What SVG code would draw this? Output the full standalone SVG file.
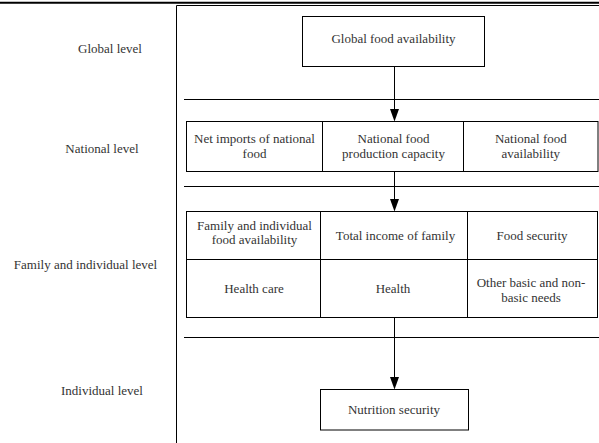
<svg xmlns="http://www.w3.org/2000/svg" width="599" height="443" viewBox="0 0 599 443">
  <style>
    .box { fill: #fff; stroke: #000; stroke-width: 1; }
    .ln { stroke: #000; stroke-width: 1; fill: none; }
    .ah { fill: #000; stroke: none; }
    text { font-family: Liberation Serif, serif; font-size: 13px; fill: #333; text-anchor: middle; }
  </style>
  <rect x="0" y="0" width="599" height="443" fill="#fff"/>

  <g id="frame">
    <line class="ln" x1="0" y1="2.7" x2="599" y2="2.7" style="stroke-width:2"/>
    <line class="ln" x1="176.5" y1="5.5" x2="599" y2="5.5"/>
    <line class="ln" x1="176.5" y1="5.5" x2="176.5" y2="443"/>
    <line class="ln" x1="184" y1="99.5" x2="599" y2="99.5"/>
    <line class="ln" x1="184" y1="186.5" x2="599" y2="186.5"/>
    <line class="ln" x1="184" y1="337.5" x2="599" y2="337.5"/>
  </g>

  <g id="level-labels">
    <text x="110" y="52.5">Global level</text>
    <text x="102" y="152.5">National level</text>
    <text x="85.5" y="269">Family and individual level</text>
    <text x="102" y="394.5">Individual level</text>
  </g>

  <g id="connectors">
    <line class="ln" x1="394.5" y1="66.5" x2="394.5" y2="110"/>
    <polygon class="ah" points="394.5,121.5 390,109 399,109"/>
    <line class="ln" x1="394.5" y1="171.5" x2="394.5" y2="200"/>
    <polygon class="ah" points="394.5,211.5 390,199 399,199"/>
    <line class="ln" x1="394.5" y1="317.5" x2="394.5" y2="378"/>
    <polygon class="ah" points="394.5,389.5 390,377 399,377"/>
  </g>

  <g id="global-food-availability">
    <rect class="box" x="302.5" y="16.5" width="182" height="50"/>
    <text x="393.5" y="43">Global food availability</text>
  </g>

  <g id="net-imports">
    <rect class="box" x="186.5" y="121.5" width="136" height="50"/>
    <text x="254.5" y="143">Net imports of national</text>
    <text x="254.5" y="157.5">food</text>
  </g>
  <g id="national-production">
    <rect class="box" x="322.5" y="121.5" width="141" height="50"/>
    <text x="393.5" y="143">National food</text>
    <text x="393.5" y="157.5">production capacity</text>
  </g>
  <g id="national-availability">
    <rect class="box" x="463.5" y="121.5" width="134.5" height="50"/>
    <text x="530.8" y="143">National food</text>
    <text x="530.8" y="157.5">availability</text>
  </g>

  <g id="family-availability">
    <rect class="box" x="186.5" y="211.5" width="134" height="48"/>
    <text x="254.5" y="229.5">Family and individual</text>
    <text x="254.5" y="243.5">food availability</text>
  </g>
  <g id="total-income">
    <rect class="box" x="320.5" y="211.5" width="147" height="48"/>
    <text x="395.5" y="240">Total income of family</text>
  </g>
  <g id="food-security">
    <rect class="box" x="467.5" y="211.5" width="130" height="48"/>
    <text x="532" y="240">Food security</text>
  </g>
  <g id="health-care">
    <rect class="box" x="186.5" y="259.5" width="134" height="58"/>
    <text x="254" y="293">Health care</text>
  </g>
  <g id="health">
    <rect class="box" x="320.5" y="259.5" width="147" height="58"/>
    <text x="393" y="293">Health</text>
  </g>
  <g id="other-needs">
    <rect class="box" x="467.5" y="259.5" width="130" height="58"/>
    <text x="531" y="286.5">Other basic and non-</text>
    <text x="531" y="301.5">basic needs</text>
  </g>

  <g id="nutrition-security">
    <rect class="box" x="320.5" y="389.5" width="148" height="40.5"/>
    <text x="394" y="414">Nutrition security</text>
  </g>
</svg>
